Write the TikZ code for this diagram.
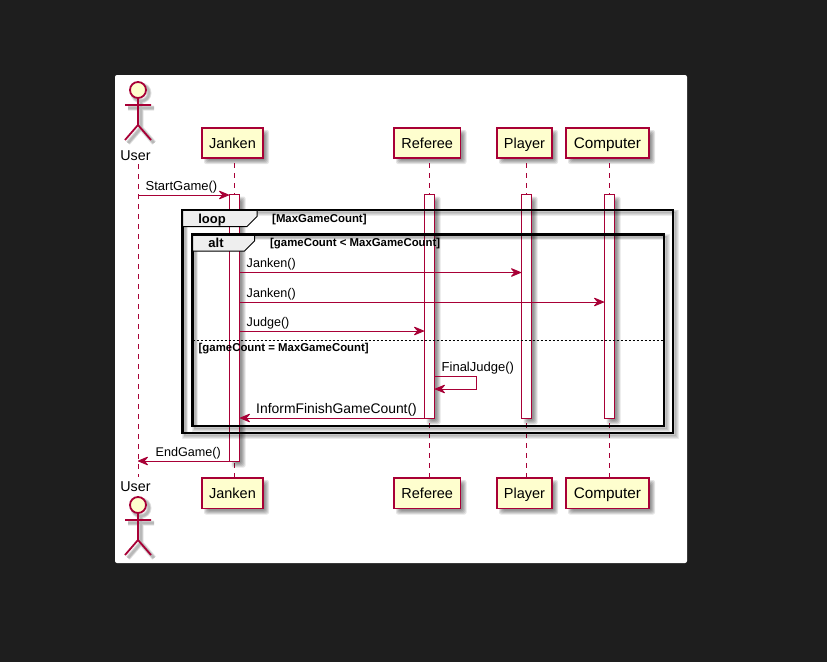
\documentclass[tikz,border=0pt]{standalone}
\usepackage{fontspec}
\setmainfont{Liberation Sans}
\usetikzlibrary{arrows.meta}
\definecolor{pu}{HTML}{A80036}
\definecolor{cream}{HTML}{FEFECE}
\definecolor{darkbg}{HTML}{1E1E1E}
\definecolor{tabgray}{HTML}{EEEEEE}
\newcommand\softshadow[4]{%
  \foreach \d in {2,1,0,-1,-2}{%
    \fill[black,opacity=.1,rounded corners=2pt] ({#1+4-\d},{#2+4-\d}) rectangle ({#3+4+\d},{#4+4+\d});}}
\newcommand\partbox[6]{% name, text, x1, x2, y1, y2
  \softshadow{#3}{#5}{#4}{#6}%
  \node[participant,minimum width={(#4-#3)*1pt},minimum height={(#6-#5)*1pt}] (#1) at ({(#3+#4)/2},{(#5+#6)/2}) {#2};}
\newcommand\actbar[5]{% name, x1, x2, y1, y2
  \softshadow{#2}{#4}{#3}{#5}%
  \node[activation,minimum width={(#3-#2)*1pt},minimum height={(#5-#4)*1pt}] (#1) at ({(#2+#3)/2},{(#4+#5)/2}) {};}
\newcommand\frameshadow[4]{%
  \foreach \w in {6,4.5,3,1.5}{%
    \draw[black,opacity=.08,line width=\w pt] ({#1+2.5},{#2+2.5}) rectangle ({#3+2.5},{#4+2.5});}}
\newcommand\stickfigure[2]{% x, y of head centre
  \foreach \w in {5,3.6,2.2}{%
    \draw[black,opacity=.1,line width=\w pt,shift={(3,3)}] (#1,#2) circle[radius=8]
      (#1,{#2+8}) -- (#1,{#2+35}) ({#1-13},{#2+15}) -- ({#1+13},{#2+15})
      ({#1-13},{#2+50}) -- (#1,{#2+35}) -- ({#1+13},{#2+50});}
  \draw[figure,fill=cream] (#1,#2) circle[radius=8];
  \draw[figure] (#1,{#2+8}) -- (#1,{#2+35}) ({#1-13},{#2+15}) -- ({#1+13},{#2+15})
      ({#1-13},{#2+50}) -- (#1,{#2+35}) -- ({#1+13},{#2+50});}
\tikzset{
  participant/.style={draw=pu,fill=cream,line width=1.6pt,inner sep=0pt,text=black,text height=11pt,text depth=0.5pt,font=\fontsize{14.5}{16}\selectfont},
  activation/.style={draw=pu,fill=white,line width=1pt,inner sep=0pt},
  figure/.style={draw=pu,line width=1.8pt},
  lifeline/.style={draw=pu,line width=1pt,dash pattern=on 5pt off 5pt},
  message/.style={draw=pu,line width=1pt,-{Stealth[length=12pt,width=10pt,inset=4.5pt,round]}},
  frameline/.style={draw=black,line width=2.3pt},
  tabshape/.style={draw=black,fill=tabgray,line width=1pt},
  msgtext/.style={anchor=base west,inner sep=0pt,text=black,font=\fontsize{13}{15}\selectfont},
  smalltext/.style={msgtext,font=\fontsize{12.6}{15}\selectfont},
  actortext/.style={anchor=base,inner sep=0pt,text=black,font=\fontsize{14.3}{16}\selectfont},
  tabtext/.style={anchor=base,inner sep=0pt,text=black,font=\bfseries\fontsize{13}{15}\selectfont},
  condtext/.style={anchor=base west,inner sep=0pt,text=black,font=\bfseries\fontsize{11.4}{13}\selectfont},
}
\begin{document}
\begin{tikzpicture}[x=1pt,y=-1pt]
\useasboundingbox (0,0) rectangle (827,662);
\fill[darkbg] (0,0) rectangle (827,662);
\fill[white,rounded corners=2pt] (115,75) rectangle (687,563);

% actor anchors
\node[actortext] (userT) at (135.5,160) {User};
\node[actortext] (userB) at (135.5,491) {User};
\coordinate (userTop) at (138,164);
\coordinate (userBot) at (138,477);

% participants
\partbox{janT}{Janken}{202}{263}{128}{158}
\partbox{refT}{Referee}{394}{460.5}{128}{158}
\partbox{plaT}{Player}{497}{552}{128}{158}
\partbox{comT}{\fontsize{15.3}{16}\selectfont Computer}{566}{649}{128}{158}
\partbox{janB}{Janken}{202}{263}{478}{508.5}
\partbox{refB}{Referee}{394}{460.5}{478}{508.5}
\partbox{plaB}{Player}{497}{552}{478}{508.5}
\partbox{comB}{\fontsize{15.3}{16}\selectfont Computer}{566}{649}{478}{508.5}

\stickfigure{138}{90}
\stickfigure{138}{505}

% lifelines
\draw[lifeline] (userTop) -- (userBot);
\draw[lifeline] (234.5,163) -- (234.5,478);
\draw[lifeline] (429.5,163) -- (429.5,478);
\draw[lifeline] (526,163) -- (526,478);
\draw[lifeline] (609,163) -- (609,478);

% activations
\actbar{actJ}{229.5}{239.5}{194.5}{461.5}
\actbar{actR}{424.5}{434.5}{194.5}{418.5}
\actbar{actP}{521.5}{531.5}{194.5}{418.5}
\actbar{actC}{604.5}{614.5}{194.5}{418.5}

% frames
\frameshadow{182.5}{210}{673}{433}
\frameshadow{192.5}{234.5}{664}{426}
\draw[frameline] (182.5,210) rectangle (673,433);
\draw[frameline] (192.5,234.5) rectangle (664,426);
\draw[tabshape] (182.5,210) -- (257,210) -- (257,216.5) -- (247,226.5) -- (182.5,226.5) -- cycle;
\draw[tabshape] (192.5,234.5) -- (254.5,234.5) -- (254.5,241) -- (244.5,251) -- (192.5,251) -- cycle;
\draw[frameline] (182.5,210) -- (257,210);
\draw[frameline] (192.5,234.5) -- (254.5,234.5);
\draw[black,line width=1pt,dash pattern=on 2pt off 2pt] (192.5,340.5) -- (664,340.5);
\node[tabtext] (loopT) at (212,223) {loop};
\node[tabtext] (altT) at (216,247.5) {alt};
\node[condtext] (c1) at (272,222) {[MaxGameCount]};
\node[condtext] (c2) at (270,246.5) {[gameCount < MaxGameCount]};
\node[condtext] (c3) at (198.5,351) {[gameCount = MaxGameCount]};

% message levels
\coordinate (m1) at (0,195);
\coordinate (m2) at (0,272.5);
\coordinate (m3) at (0,302);
\coordinate (m4) at (0,331);
\coordinate (m5a) at (0,376);
\coordinate (m5b) at (0,389);
\coordinate (m6) at (0,418);
\coordinate (m7) at (0,461);
\coordinate (selfR) at (476.5,0);

\draw[message] (userTop |- m1) -- (actJ.west |- m1);
\draw[message] (actJ.east |- m2) -- (actP.west |- m2);
\draw[message] (actJ.east |- m3) -- (actC.west |- m3);
\draw[message] (actJ.east |- m4) -- (actR.west |- m4);
\draw[message] (actR.east |- m5a) -- (selfR |- m5a) -- (selfR |- m5b) -- (actR.east |- m5b);
\draw[message] (actR.west |- m6) -- (actJ.east |- m6);
\draw[message] (actJ.west |- m7) -- (userTop |- m7);

\node[msgtext] (t1) at (145.5,190) {StartGame()};
\node[smalltext] (t2) at (246.5,267.5) {Janken()};
\node[smalltext] (t3) at (246.5,297) {Janken()};
\node[smalltext] (t4) at (246.5,326.5) {Judge()};
\node[msgtext] (t5) at (441.5,371) {FinalJudge()};
\node[msgtext,font=\fontsize{13.9}{15}\selectfont] (t6) at (256,413) {InformFinishGameCount()};
\node[smalltext] (t7) at (155.5,456) {EndGame()};
\end{tikzpicture}
\end{document}
